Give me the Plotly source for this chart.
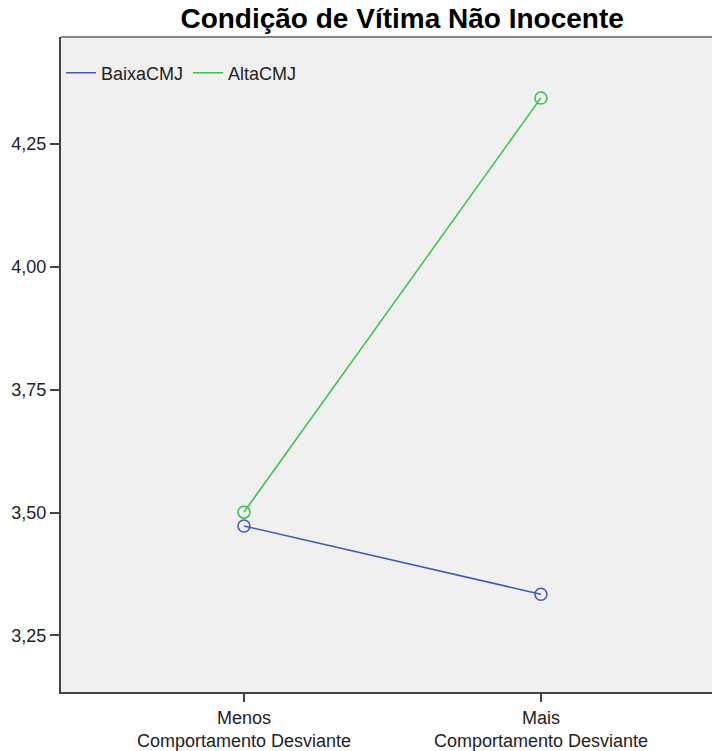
import plotly.graph_objects as go

categories = ["Menos<br>Comportamento Desviante", "Mais<br>Comportamento Desviante"]
baixa_cmj = [3.473, 3.334]
alta_cmj = [3.501, 4.344]
series_names = ["BaixaCMJ", "AltaCMJ"]
y_tick_vals = [3.25, 3.50, 3.75, 4.00, 4.25]
y_tick_text = ["3,25", "3,50", "3,75", "4,00", "4,25"]

blue = "#4159b5"
green = "#3cbf4f"

fig = go.Figure()
for name, vals, col in [(series_names[0], baixa_cmj, blue), (series_names[1], alta_cmj, green)]:
    fig.add_trace(go.Scatter(
        x=categories, y=vals, mode="lines+markers", name=name,
        line=dict(color=col, width=1.5),
        marker=dict(symbol="circle-open", size=12, color=col, line=dict(width=1.5)),
        showlegend=False,
    ))
    fig.add_trace(go.Scatter(
        x=[None], y=[None], mode="lines", name=name,
        line=dict(color=col, width=1.5), showlegend=True,
    ))

fig.update_layout(
    width=712, height=751,
    margin=dict(l=61, r=0, t=37, b=54),
    paper_bgcolor="white",
    plot_bgcolor="#f0f0f0",
    font=dict(family="Liberation Sans, Arial, sans-serif", size=18, color="#222222"),
    title=dict(text="<b>Condição de Vítima Não Inocente</b>", x=0.524, xref="paper",
               xanchor="center", y=1 - 18 / 751, yref="container", yanchor="middle",
               font=dict(size=28, color="#000000")),
    legend=dict(orientation="h", x=0.0, y=0.945, xanchor="left", yanchor="middle",
                bgcolor="rgba(0,0,0,0)", itemwidth=30, font=dict(size=18),
                tracegroupgap=0),
    showlegend=True,
)
fig.update_xaxes(
    type="category", range=[-0.616, 1.576],
    showgrid=False, zeroline=False,
    showline=True, linecolor="#444444", linewidth=2, mirror=False,
    ticks="outside", ticklen=8, tickcolor="#444444", tickwidth=1.5,
    tickfont=dict(size=18, color="#222222"),
)
fig.update_yaxes(
    range=[3.135, 4.468],
    tickvals=y_tick_vals, ticktext=y_tick_text,
    showgrid=False, zeroline=False,
    showline=True, linecolor="#444444", linewidth=2,
    ticks="outside", ticklen=9, tickcolor="#444444", tickwidth=1.5,
    tickfont=dict(size=18, color="#222222"),
)
# top border of plot frame
fig.add_shape(type="line", xref="paper", yref="paper", x0=0, x1=1, y0=1, y1=1,
              line=dict(color="#888888", width=2))

# remove the default 8px page margin so the figure fills the window exactly
fig.write_html("out.html", config={"displayModeBar": False},
               post_script="document.body.style.margin='0';")
